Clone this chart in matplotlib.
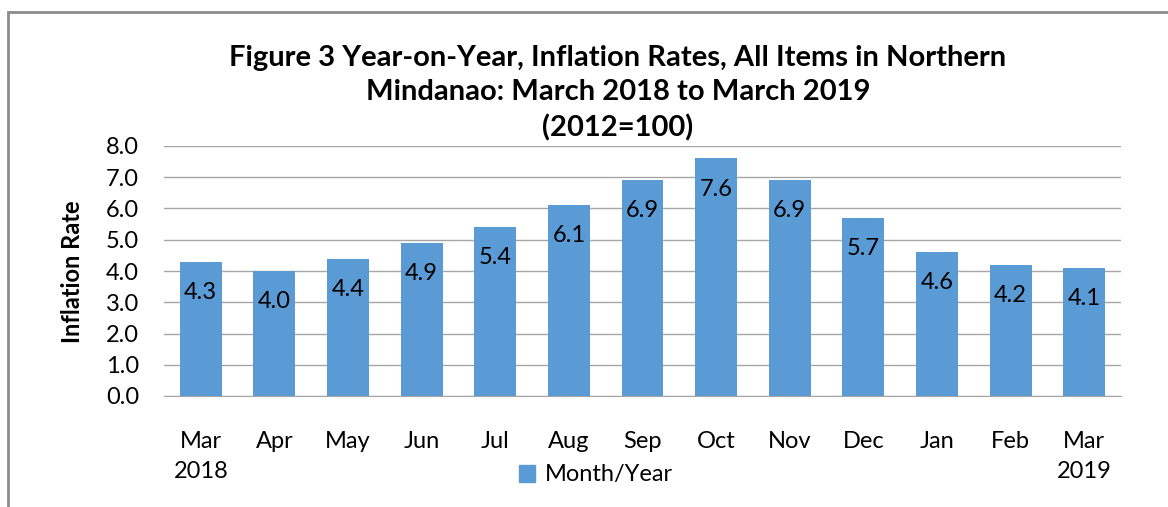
import matplotlib.pyplot as plt
from matplotlib.patches import Rectangle, Patch

plt.rcParams['font.family'] = ['Lato', 'DejaVu Sans']

months = ['Mar\n2018', 'Apr', 'May', 'Jun', 'Jul', 'Aug', 'Sep',
          'Oct', 'Nov', 'Dec', 'Jan', 'Feb', 'Mar\n2019']
rates = [4.3, 4.0, 4.4, 4.9, 5.4, 6.1, 6.9, 7.6, 6.9, 5.7, 4.6, 4.2, 4.1]
yticks = [0, 1, 2, 3, 4, 5, 6, 7, 8]

W, H = 1168, 507
fig = plt.figure(figsize=(W / 100, H / 100), dpi=100)
ax = fig.add_axes([164 / W, 1 - 396 / H, (1121 - 164) / W, (396 - 146) / H])

bar_color = '#5B9BD5'
x = range(len(months))
bars = ax.bar(x, rates, width=0.57, color=bar_color, zorder=2)

for b, v in zip(bars, rates):
    ax.annotate('{:.1f}'.format(v), (b.get_x() + b.get_width() / 2, v),
                xytext=(0, -22), textcoords='offset points',
                ha='center', va='center', fontsize=17, color='black')

ax.set_xlim(-0.5, len(months) - 0.5)
ax.set_ylim(0, 8)
ax.set_yticks(yticks)
ax.set_yticklabels(['{:.1f}'.format(t) for t in yticks], fontsize=17)
ax.set_xticks(list(x))
ax.set_xticklabels(months, fontsize=17, va='top', linespacing=1.55)
ax.tick_params(axis='both', length=0)
ax.tick_params(axis='x', pad=25)
ax.tick_params(axis='y', pad=18)
ax.grid(axis='y', color='#A6A6A6', linewidth=1, zorder=0)
for s in ['top', 'right', 'left']:
    ax.spines[s].set_visible(False)
ax.spines['bottom'].set_color('#A6A6A6')

fig.text(72 / W, 1 - 272 / H, 'Inflation Rate', rotation=90, ha='center',
         va='center', fontsize=17, fontweight='bold')

fig.text(618 / W, 1 - 93 / H,
         'Figure 3 Year-on-Year, Inflation Rates, All Items in Northern\n'
         'Mindanao: March 2018 to March 2019\n(2012=100)',
         ha='center', va='center', fontsize=21, fontweight='bold',
         linespacing=1.4)

handle = Patch(color=bar_color)
fig.legend([handle], ['Month/Year'], loc='center',
           bbox_to_anchor=(596 / W, 1 - 475 / H), frameon=False,
           fontsize=17, handlelength=0.7, handleheight=0.7,
           handletextpad=0.4)

fig.add_artist(Rectangle((8 / W, -0.1), 1.2, 1 - 12 / H + 0.1,
                         transform=fig.transFigure, fill=False,
                         edgecolor='#8C8C8C', linewidth=2))

fig.savefig('out.png', dpi=100)
